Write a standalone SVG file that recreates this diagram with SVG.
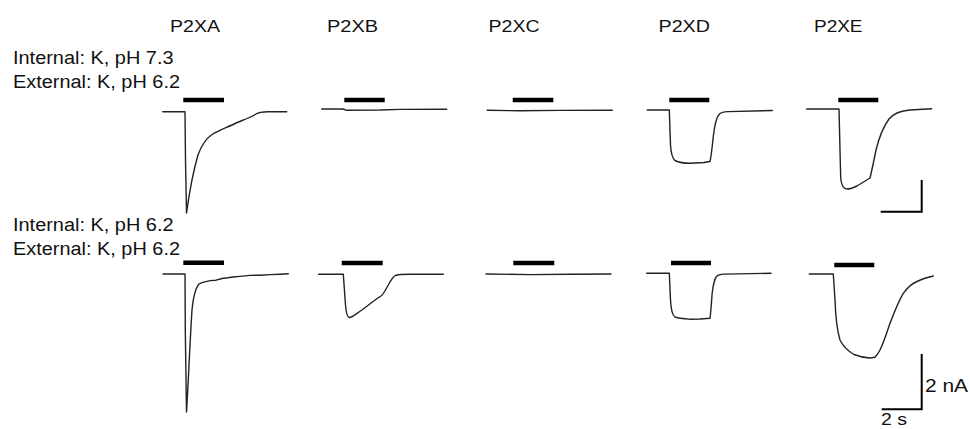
<svg xmlns="http://www.w3.org/2000/svg" width="970" height="429" viewBox="0 0 970 429">
<style>
text{font-family:"Liberation Sans",Arial,sans-serif;fill:#111}
.t{font-size:16.5px}
.l{font-size:18px}
.s{font-size:17.5px}
.tr{fill:none;stroke:#222;stroke-width:1.4;stroke-linejoin:round;stroke-linecap:round}
.bar{stroke:#000;stroke-width:4.5}
.sb{fill:none;stroke:#000;stroke-width:2}
</style>
<rect width="970" height="429" fill="#fff"/>
<g id="titles">
<text class="t" x="170" y="31.5" textLength="50" lengthAdjust="spacingAndGlyphs">P2XA</text>
<text class="t" x="327" y="31.5" textLength="51" lengthAdjust="spacingAndGlyphs">P2XB</text>
<text class="t" x="488.5" y="31.5" textLength="51" lengthAdjust="spacingAndGlyphs">P2XC</text>
<text class="t" x="658.5" y="31.5" textLength="51.5" lengthAdjust="spacingAndGlyphs">P2XD</text>
<text class="t" x="814" y="31.5" textLength="48.5" lengthAdjust="spacingAndGlyphs">P2XE</text>
</g>
<g id="labels">
<text class="l" x="13" y="64" textLength="160.5" lengthAdjust="spacingAndGlyphs">Internal: K, pH 7.3</text>
<text class="l" x="13" y="87.5" textLength="167" lengthAdjust="spacingAndGlyphs">External: K, pH 6.2</text>
<text class="l" x="13" y="230.5" textLength="160.5" lengthAdjust="spacingAndGlyphs">Internal: K, pH 6.2</text>
<text class="l" x="13" y="255" textLength="167" lengthAdjust="spacingAndGlyphs">External: K, pH 6.2</text>
</g>
<g id="bars">
<line class="bar" x1="183.3" y1="100" x2="224" y2="100"/>
<line class="bar" x1="344.3" y1="100" x2="384.7" y2="100"/>
<line class="bar" x1="512.7" y1="100" x2="553.3" y2="100"/>
<line class="bar" x1="669.3" y1="100" x2="709.3" y2="100"/>
<line class="bar" x1="838.3" y1="100" x2="878.3" y2="100"/>
<line class="bar" x1="183.3" y1="262.7" x2="224" y2="262.7"/>
<line class="bar" x1="341.7" y1="263" x2="382.7" y2="263"/>
<line class="bar" x1="513.3" y1="263" x2="554.3" y2="263"/>
<line class="bar" x1="671" y1="263" x2="711" y2="263"/>
<line class="bar" x1="834.3" y1="265" x2="874.3" y2="265"/>
</g>
<g id="traces-row1">
<path class="tr" d="M162.7,111.7 L185,111.7 L185.5,160 L186.5,213 C189,195 193,172 198,155 C202,144 207,138 212,134.5 C220,130 228,127 236,123 C243,120 250,118 256,114 C259,112 262,111.8 268,111.7 L286.7,111.7"/>
<path class="tr" d="M321.7,109 L343,109 L346,110.2 L380,110 L400,109.4 L446.7,109.2"/>
<path class="tr" d="M487.3,110.3 L520,110.8 L560,110.4 L612.3,110.3"/>
<path class="tr" d="M647.3,110 L669.3,110 L670.5,145 C671,153 672,158 675,160.5 C680,163 686,163.3 690,163.3 L704,162.5 L710,161.5 C711.5,155 712.3,145 713.3,136.7 C714.5,126 716,118 719,114.5 C721,112 724,111.7 728,111.6 L772.3,110.5"/>
<path class="tr" d="M806.7,109 L839,109 L840,150 L840.7,178 C841.5,186 844,189 847,189 C850,189 853,188 857,186 L870,178 C872,170 874,160 876,150 C879,138 883,127 889,119 C894,113 900,110.7 910,110 L931.7,108.7"/>
</g>
<g id="traces-row2">
<path class="tr" d="M163,274 L185,274 L185.3,330 L186.5,412 C188,390 190,340 192,310 C193.5,295 195.5,288 199,284 C203,281.5 206,282 210,280.6 L216,280.2 L222,278.5 L228,277.8 L233,277 L240,276.4 L250,275.4 L260,275.2 L270,274.6 L280,274.2 L288.3,273.7"/>
<path class="tr" d="M318.7,274.3 L343.3,274.3 L345.5,305 C346,312 347.5,317 349.3,317.7 C352,317.5 356,314 362,310 L375,300 L381.7,295.5 C384,293 386,289 388.3,285 C391,280 393,276.5 396,275.2 C400,274.3 405,274.3 410,274.3 L443.3,274.3"/>
<path class="tr" d="M486,274 L530,274.6 L570,274.3 L611,274"/>
<path class="tr" d="M646.7,273.3 L669.3,273.3 L670.5,300 C671,310 672,315 675,317 C679,318.5 684,318.8 690,319.2 L700,319 L710,318.3 C711,310 711.5,302 712,295 C713,285 714.5,279 716.5,276.5 C718,274.8 720,274.3 724,274.1 L771,273.3"/>
<path class="tr" d="M809.3,274 L833.3,274 L835,300 C835.5,315 837,330 840,340 C843,346 848,351 854,354.5 C859,356.5 864,357.7 870,358 L875,357.2 C877,355 878.5,353 880,350 C884,342 887,332 890,323.3 C894,313 898,302 903.3,293.3 C908,287 912,283.5 917,281.5 C922,279 927,277.5 933.3,276"/>
</g>
<g id="scalebars">
<polyline class="sb" points="921.7,180 921.7,211.7 880.7,211.7"/>
<polyline class="sb" points="921.7,354 921.7,409.3 881.7,409.3"/>
<text class="s" x="925" y="392" textLength="43" lengthAdjust="spacingAndGlyphs">2 nA</text>
<text x="881" y="425" font-size="16" textLength="26" lengthAdjust="spacingAndGlyphs">2 s</text>
</g>
</svg>
